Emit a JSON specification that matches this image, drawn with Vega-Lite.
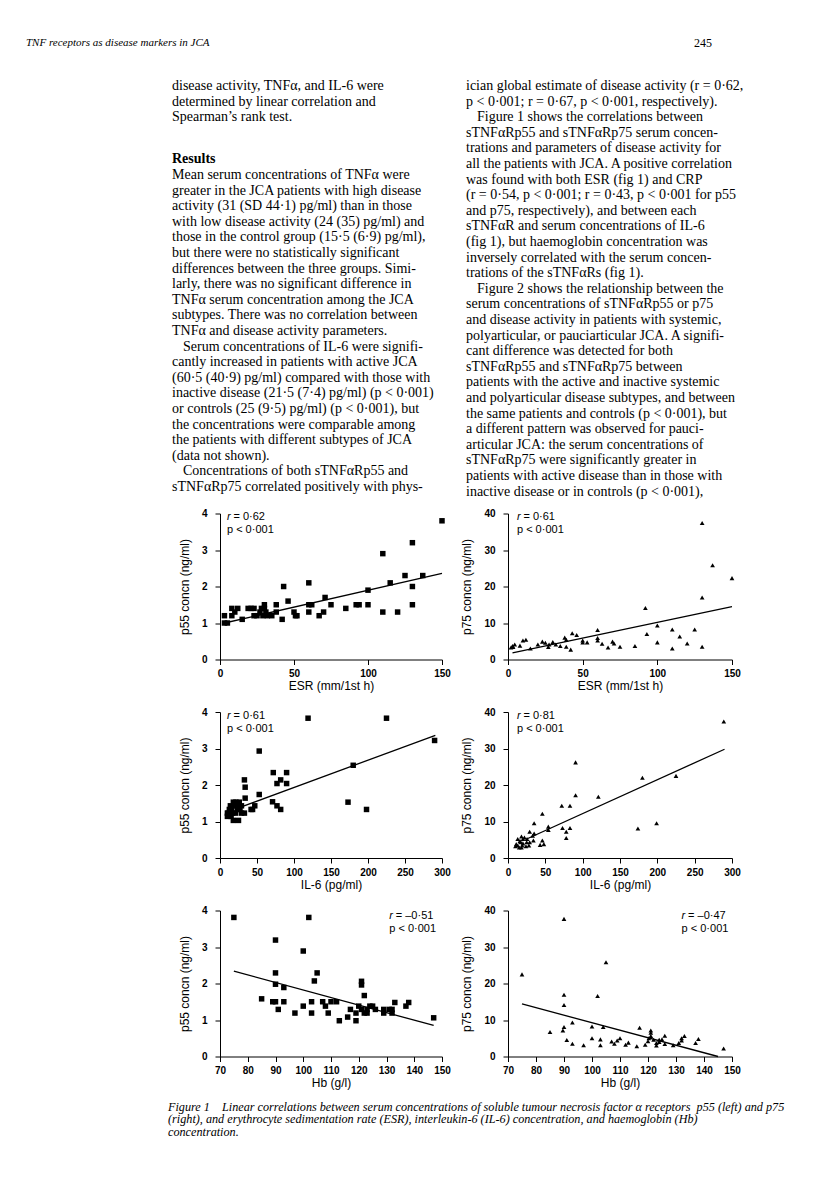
{
  "$schema": "https://vega.github.io/schema/vega-lite/v6.json",
  "background": "white",
  "padding": 0,
  "autosize": {"type": "pad"},
  "config": {
    "view": {"stroke": null},
    "axis": {"grid": false, "domainColor": "black", "domainWidth": 1, "tickColor": "black", "tickWidth": 1, "tickSize": 5, "labelFont": "Liberation Sans", "labelFontSize": 10, "labelFontWeight": "bold", "labelColor": "black", "titleFont": "Liberation Sans", "titleFontSize": 12, "titleFontWeight": "normal", "titleColor": "black", "labelFlush": false, "labelOverlap": false},
    "axisX": {"labelPadding": 4, "titlePadding": 2},
    "axisY": {"labelPadding": 8, "titlePadding": 10}
  },
  "datasets": {
    "header": [
      {"pos": "left", "line": -3, "text": "TNF receptors as disease markers in JCA"},
      {"pos": "right", "line": -3, "text": "245"}
    ],
    "body": [
      {"col": "left", "line": 0, "text": "disease activity, TNFα, and IL-6 were"},
      {"col": "left", "line": 1, "text": "determined by linear correlation and"},
      {"col": "left", "line": 2, "text": "Spearman’s rank test."},
      {"col": "left", "line": 5, "text": "Results", "kind": "heading"},
      {"col": "left", "line": 6, "text": "Mean serum concentrations of TNFα were"},
      {"col": "left", "line": 7, "text": "greater in the JCA patients with high disease"},
      {"col": "left", "line": 8, "text": "activity (31 (SD 44·1) pg/ml) than in those"},
      {"col": "left", "line": 9, "text": "with low disease activity (24 (35) pg/ml) and"},
      {"col": "left", "line": 10, "text": "those in the control group (15·5 (6·9) pg/ml),"},
      {"col": "left", "line": 11, "text": "but there were no statistically significant"},
      {"col": "left", "line": 12, "text": "differences between the three groups. Simi-"},
      {"col": "left", "line": 13, "text": "larly, there was no significant difference in"},
      {"col": "left", "line": 14, "text": "TNFα serum concentration among the JCA"},
      {"col": "left", "line": 15, "text": "subtypes. There was no correlation between"},
      {"col": "left", "line": 16, "text": "TNFα and disease activity parameters."},
      {"col": "left", "line": 17, "text": "Serum concentrations of IL-6 were signifi-", "indent": true},
      {"col": "left", "line": 18, "text": "cantly increased in patients with active JCA"},
      {"col": "left", "line": 19, "text": "(60·5 (40·9) pg/ml) compared with those with"},
      {"col": "left", "line": 20, "text": "inactive disease (21·5 (7·4) pg/ml) (p < 0·001)"},
      {"col": "left", "line": 21, "text": "or controls (25 (9·5) pg/ml) (p < 0·001), but"},
      {"col": "left", "line": 22, "text": "the concentrations were comparable among"},
      {"col": "left", "line": 23, "text": "the patients with different subtypes of JCA"},
      {"col": "left", "line": 24, "text": "(data not shown)."},
      {"col": "left", "line": 25, "text": "Concentrations of both sTNFαRp55 and", "indent": true},
      {"col": "left", "line": 26, "text": "sTNFαRp75 correlated positively with phys-"},
      {"col": "right", "line": 0, "text": "ician global estimate of disease activity (r = 0·62,"},
      {"col": "right", "line": 1, "text": "p < 0·001; r = 0·67, p < 0·001, respectively)."},
      {"col": "right", "line": 2, "text": "Figure 1 shows the correlations between", "indent": true},
      {"col": "right", "line": 3, "text": "sTNFαRp55 and sTNFαRp75 serum concen-"},
      {"col": "right", "line": 4, "text": "trations and parameters of disease activity for"},
      {"col": "right", "line": 5, "text": "all the patients with JCA. A positive correlation"},
      {"col": "right", "line": 6, "text": "was found with both ESR (fig 1) and CRP"},
      {"col": "right", "line": 7, "text": "(r = 0·54, p < 0·001; r = 0·43, p < 0·001 for p55"},
      {"col": "right", "line": 8, "text": "and p75, respectively), and between each"},
      {"col": "right", "line": 9, "text": "sTNFαR and serum concentrations of IL-6"},
      {"col": "right", "line": 10, "text": "(fig 1), but haemoglobin concentration was"},
      {"col": "right", "line": 11, "text": "inversely correlated with the serum concen-"},
      {"col": "right", "line": 12, "text": "trations of the sTNFαRs (fig 1)."},
      {"col": "right", "line": 13, "text": "Figure 2 shows the relationship between the", "indent": true},
      {"col": "right", "line": 14, "text": "serum concentrations of sTNFαRp55 or p75"},
      {"col": "right", "line": 15, "text": "and disease activity in patients with systemic,"},
      {"col": "right", "line": 16, "text": "polyarticular, or pauciarticular JCA. A signifi-"},
      {"col": "right", "line": 17, "text": "cant difference was detected for both"},
      {"col": "right", "line": 18, "text": "sTNFαRp55 and sTNFαRp75 between"},
      {"col": "right", "line": 19, "text": "patients with the active and inactive systemic"},
      {"col": "right", "line": 20, "text": "and polyarticular disease subtypes, and between"},
      {"col": "right", "line": 21, "text": "the same patients and controls (p < 0·001), but"},
      {"col": "right", "line": 22, "text": "a different pattern was observed for pauci-"},
      {"col": "right", "line": 23, "text": "articular JCA: the serum concentrations of"},
      {"col": "right", "line": 24, "text": "sTNFαRp75 were significantly greater in"},
      {"col": "right", "line": 25, "text": "patients with active disease than in those with"},
      {"col": "right", "line": 26, "text": "inactive disease or in controls (p < 0·001),"}
    ],
    "caption": [
      {"col": "left", "line": 0, "text": "Figure 1\u2002\u2002Linear correlations between serum concentrations of soluble tumour necrosis factor α receptors\u2002p55 (left) and p75"},
      {"col": "left", "line": 1, "text": "(right), and erythrocyte sedimentation rate (ESR), interleukin-6 (IL-6) concentration, and haemoglobin (Hb)"},
      {"col": "left", "line": 2, "text": "concentration."}
    ],
    "esr_p55": [
      {"esr": 150, "p55": 3.8}, {"esr": 130, "p55": 3.2}, {"esr": 110, "p55": 2.9}, {"esr": 125, "p55": 2.3}, {"esr": 137, "p55": 2.3},
      {"esr": 115, "p55": 2.1}, {"esr": 130, "p55": 2.0}, {"esr": 60, "p55": 2.1}, {"esr": 43, "p55": 2.0}, {"esr": 100, "p55": 1.9},
      {"esr": 71, "p55": 1.7}, {"esr": 46, "p55": 1.6}, {"esr": 110, "p55": 1.3}, {"esr": 120, "p55": 1.3}, {"esr": 130, "p55": 1.5},
      {"esr": 100, "p55": 1.5}, {"esr": 92, "p55": 1.5}, {"esr": 94, "p55": 1.5}, {"esr": 85, "p55": 1.4}, {"esr": 75, "p55": 1.5},
      {"esr": 62, "p55": 1.5}, {"esr": 60, "p55": 1.5}, {"esr": 60, "p55": 1.3}, {"esr": 70, "p55": 1.3}, {"esr": 67, "p55": 1.2},
      {"esr": 50, "p55": 1.3}, {"esr": 51, "p55": 1.2}, {"esr": 52, "p55": 1.2}, {"esr": 42, "p55": 1.1}, {"esr": 38, "p55": 1.5},
      {"esr": 38, "p55": 1.3}, {"esr": 35, "p55": 1.2}, {"esr": 31, "p55": 1.3}, {"esr": 30, "p55": 1.5}, {"esr": 30, "p55": 1.4},
      {"esr": 29, "p55": 1.2}, {"esr": 27, "p55": 1.3}, {"esr": 25, "p55": 1.2}, {"esr": 23, "p55": 1.2}, {"esr": 21, "p55": 1.4},
      {"esr": 19, "p55": 1.4}, {"esr": 23, "p55": 1.4}, {"esr": 15, "p55": 1.1}, {"esr": 12, "p55": 1.4}, {"esr": 8, "p55": 1.4},
      {"esr": 8, "p55": 1.2}, {"esr": 10, "p55": 1.3}, {"esr": 3, "p55": 1.2}, {"esr": 3, "p55": 1.0}, {"esr": 5, "p55": 1.0},
      {"esr": 32, "p55": 1.2}, {"esr": 28, "p55": 1.4}
    ],
    "fit_esr_p55": [{"esr": 3, "p55": 1.0}, {"esr": 150, "p55": 2.36}],
    "esr_p75": [
      {"esr": 130, "p75": 37.4}, {"esr": 137, "p75": 25.8}, {"esr": 150, "p75": 22.3}, {"esr": 130, "p75": 17}, {"esr": 92, "p75": 14.1},
      {"esr": 93, "p75": 7}, {"esr": 100, "p75": 9.3}, {"esr": 100, "p75": 4.7}, {"esr": 110, "p75": 8.2}, {"esr": 110, "p75": 3},
      {"esr": 115, "p75": 6.3}, {"esr": 120, "p75": 4.4}, {"esr": 125, "p75": 8.2}, {"esr": 130, "p75": 3.5}, {"esr": 85, "p75": 3.7},
      {"esr": 75, "p75": 3.5}, {"esr": 71, "p75": 4.4}, {"esr": 70, "p75": 4.9}, {"esr": 67, "p75": 3.3}, {"esr": 63, "p75": 4.3},
      {"esr": 60, "p75": 8.1}, {"esr": 60, "p75": 5.9}, {"esr": 60, "p75": 5.2}, {"esr": 53, "p75": 4.7}, {"esr": 50, "p75": 5.2},
      {"esr": 50, "p75": 4.7}, {"esr": 46, "p75": 6.7}, {"esr": 43, "p75": 7.2}, {"esr": 42, "p75": 2.7}, {"esr": 39, "p75": 5.4},
      {"esr": 38, "p75": 6}, {"esr": 39, "p75": 3.5}, {"esr": 35, "p75": 3.7}, {"esr": 32, "p75": 4.1}, {"esr": 30, "p75": 4.8},
      {"esr": 27.5, "p75": 4.1}, {"esr": 27, "p75": 3.4}, {"esr": 25, "p75": 4.6}, {"esr": 23, "p75": 4.9}, {"esr": 20, "p75": 4.1},
      {"esr": 15, "p75": 3}, {"esr": 12, "p75": 5.4}, {"esr": 10, "p75": 5.2}, {"esr": 8, "p75": 3.8}, {"esr": 4.5, "p75": 4.1},
      {"esr": 3, "p75": 3.7}, {"esr": 2, "p75": 3.3}, {"esr": 3.4, "p75": 3.4}
    ],
    "fit_esr_p75": [{"esr": 3, "p75": 1.8}, {"esr": 150, "p75": 14.5}],
    "il6_p55": [
      {"il6": 119, "p55": 3.83}, {"il6": 225, "p55": 3.83}, {"il6": 290, "p55": 3.22}, {"il6": 53, "p55": 2.93}, {"il6": 180, "p55": 2.54},
      {"il6": 173, "p55": 1.53}, {"il6": 198, "p55": 1.33}, {"il6": 72, "p55": 2.34}, {"il6": 90, "p55": 2.34}, {"il6": 82, "p55": 2.14},
      {"il6": 77, "p55": 2.04}, {"il6": 90, "p55": 2.04}, {"il6": 71, "p55": 1.54}, {"il6": 77, "p55": 1.43}, {"il6": 82, "p55": 1.33},
      {"il6": 33, "p55": 2.14}, {"il6": 34, "p55": 1.94}, {"il6": 53, "p55": 1.74}, {"il6": 34, "p55": 1.64}, {"il6": 47, "p55": 1.43},
      {"il6": 44, "p55": 1.33}, {"il6": 42, "p55": 1.33}, {"il6": 33, "p55": 1.23}, {"il6": 29, "p55": 1.43}, {"il6": 29, "p55": 1.23},
      {"il6": 27, "p55": 1.33}, {"il6": 21.5, "p55": 1.53}, {"il6": 18, "p55": 1.53}, {"il6": 19, "p55": 1.43}, {"il6": 24, "p55": 1.33},
      {"il6": 21, "p55": 1.23}, {"il6": 17, "p55": 1.23}, {"il6": 14, "p55": 1.43}, {"il6": 12.6, "p55": 1.33}, {"il6": 11, "p55": 1.23},
      {"il6": 10, "p55": 1.14}, {"il6": 10, "p55": 1.23}, {"il6": 15, "p55": 1.14}, {"il6": 18, "p55": 1.03}, {"il6": 25, "p55": 1.03},
      {"il6": 16, "p55": 1.33}, {"il6": 23, "p55": 1.43}, {"il6": 26, "p55": 1.53}
    ],
    "fit_il6_p55": [{"il6": 26, "p55": 1.38}, {"il6": 291, "p55": 3.36}],
    "il6_p75": [
      {"il6": 289, "p75": 37.4}, {"il6": 90.5, "p75": 26.2}, {"il6": 180, "p75": 22}, {"il6": 225, "p75": 22.5}, {"il6": 90.5, "p75": 17.2},
      {"il6": 121, "p75": 16.8}, {"il6": 72, "p75": 14.3}, {"il6": 83, "p75": 14.3}, {"il6": 46, "p75": 12.1}, {"il6": 35, "p75": 9.5},
      {"il6": 199, "p75": 9.5}, {"il6": 174, "p75": 8.1}, {"il6": 73, "p75": 8.2}, {"il6": 83, "p75": 8.2}, {"il6": 54, "p75": 8.6},
      {"il6": 54, "p75": 7.7}, {"il6": 78, "p75": 7.2}, {"il6": 78, "p75": 5.5}, {"il6": 29, "p75": 7.2}, {"il6": 35, "p75": 6.7},
      {"il6": 33, "p75": 6.1}, {"il6": 34, "p75": 4.8}, {"il6": 46, "p75": 4.8}, {"il6": 48, "p75": 3.8}, {"il6": 43, "p75": 3.6},
      {"il6": 28, "p75": 3.4}, {"il6": 25, "p75": 4.3}, {"il6": 20, "p75": 5.2}, {"il6": 18, "p75": 5.9}, {"il6": 16, "p75": 4.7},
      {"il6": 13, "p75": 3.4}, {"il6": 11, "p75": 3.8}, {"il6": 15, "p75": 2.9}, {"il6": 18, "p75": 2.9}, {"il6": 20, "p75": 4},
      {"il6": 22, "p75": 5.6}, {"il6": 25.5, "p75": 5.2}, {"il6": 10, "p75": 3.2}, {"il6": 16.6, "p75": 4.3}, {"il6": 19, "p75": 3.4},
      {"il6": 24, "p75": 3.2}, {"il6": 13, "p75": 5.2}, {"il6": 29, "p75": 4.3}
    ],
    "fit_il6_p75": [{"il6": 25, "p75": 5.2}, {"il6": 290, "p75": 29.8}],
    "hb_p55": [
      {"hb": 75, "p55": 3.81}, {"hb": 102, "p55": 3.81}, {"hb": 90, "p55": 3.19}, {"hb": 100, "p55": 2.89}, {"hb": 90, "p55": 2.29},
      {"hb": 105, "p55": 2.29}, {"hb": 104, "p55": 2.07}, {"hb": 90, "p55": 1.98}, {"hb": 93, "p55": 1.89}, {"hb": 121, "p55": 2.06},
      {"hb": 121, "p55": 1.96}, {"hb": 122, "p55": 1.67}, {"hb": 85, "p55": 1.58}, {"hb": 89, "p55": 1.5}, {"hb": 90, "p55": 1.5},
      {"hb": 93, "p55": 1.5}, {"hb": 103, "p55": 1.5}, {"hb": 107, "p55": 1.5}, {"hb": 110, "p55": 1.5}, {"hb": 112, "p55": 1.5},
      {"hb": 108, "p55": 1.38}, {"hb": 100, "p55": 1.38}, {"hb": 91, "p55": 1.29}, {"hb": 97, "p55": 1.19}, {"hb": 103, "p55": 1.19},
      {"hb": 109, "p55": 1.19}, {"hb": 113, "p55": 0.98}, {"hb": 116, "p55": 1.08}, {"hb": 117, "p55": 1.29}, {"hb": 119, "p55": 0.98},
      {"hb": 119, "p55": 1.19}, {"hb": 120, "p55": 1.38}, {"hb": 121, "p55": 1.29}, {"hb": 122, "p55": 1.19}, {"hb": 123, "p55": 1.29},
      {"hb": 123, "p55": 1.19}, {"hb": 124, "p55": 1.38}, {"hb": 125, "p55": 1.38}, {"hb": 126, "p55": 1.29}, {"hb": 129, "p55": 1.19},
      {"hb": 129, "p55": 1.29}, {"hb": 131, "p55": 1.29}, {"hb": 132, "p55": 1.19}, {"hb": 132, "p55": 1.29}, {"hb": 133, "p55": 1.48},
      {"hb": 137, "p55": 1.38}, {"hb": 138, "p55": 1.48}, {"hb": 147, "p55": 1.06}
    ],
    "fit_hb_p55": [{"hb": 75, "p55": 2.34}, {"hb": 147, "p55": 0.85}],
    "hb_p75": [
      {"hb": 90, "p75": 37.7}, {"hb": 105, "p75": 25.8}, {"hb": 75, "p75": 22.5}, {"hb": 90, "p75": 16.9}, {"hb": 102, "p75": 16.6},
      {"hb": 90, "p75": 14.1}, {"hb": 93, "p75": 9.3}, {"hb": 90, "p75": 8.1}, {"hb": 89.6, "p75": 7.1}, {"hb": 85, "p75": 6.7},
      {"hb": 100, "p75": 8.2}, {"hb": 104, "p75": 8.1}, {"hb": 117, "p75": 7.9}, {"hb": 121, "p75": 7.1}, {"hb": 121, "p75": 6.5},
      {"hb": 126, "p75": 5.7}, {"hb": 91, "p75": 4.5}, {"hb": 93, "p75": 3.5}, {"hb": 97, "p75": 3.1}, {"hb": 100, "p75": 5},
      {"hb": 103, "p75": 4.7}, {"hb": 103, "p75": 3.1}, {"hb": 107, "p75": 4.1}, {"hb": 108, "p75": 3.5}, {"hb": 109, "p75": 4.4},
      {"hb": 110, "p75": 5}, {"hb": 112, "p75": 3.2}, {"hb": 113, "p75": 3.8}, {"hb": 116, "p75": 2.8}, {"hb": 119, "p75": 3.2},
      {"hb": 120, "p75": 4.2}, {"hb": 120.3, "p75": 5}, {"hb": 121, "p75": 5.6}, {"hb": 122, "p75": 4.6}, {"hb": 123, "p75": 3.7},
      {"hb": 123, "p75": 3}, {"hb": 124, "p75": 4.6}, {"hb": 124, "p75": 4}, {"hb": 125, "p75": 4.7}, {"hb": 126, "p75": 3.4},
      {"hb": 129, "p75": 3.1}, {"hb": 131, "p75": 3.7}, {"hb": 132, "p75": 4.4}, {"hb": 132, "p75": 5}, {"hb": 133, "p75": 5.6},
      {"hb": 137, "p75": 3.7}, {"hb": 138, "p75": 4.8}, {"hb": 147, "p75": 2.2}
    ],
    "fit_hb_p75": [{"hb": 75, "p75": 14.4}, {"hb": 145, "p75": 0}]
  },
  "concat": [
    {
      "width": 220, "height": 460.5,
      "layer": [
        {
          "data": {"name": "header"},
          "encoding": {
            "x": {"field": "pos", "type": "nominal", "scale": {"type": "point", "domain": ["left", "right"], "range": [26, 712], "padding": 0}, "axis": null},
            "y": {"field": "line", "type": "quantitative", "scale": {"domain": [-5.513, 24.006], "reverse": true, "nice": false, "zero": false}, "axis": null},
            "text": {"field": "text"}
          },
          "layer": [
            {"transform": [{"filter": "datum.pos === 'left'"}], "mark": {"type": "text", "align": "left", "baseline": "middle", "dy": 4, "font": "Liberation Serif", "fontSize": 11, "fontStyle": "italic", "color": "black"}},
            {"transform": [{"filter": "datum.pos === 'right'"}], "mark": {"type": "text", "align": "right", "baseline": "middle", "dy": 4, "font": "Liberation Serif", "fontSize": 12, "color": "black"}}
          ]
        },
        {
          "data": {"name": "body"},
          "encoding": {
            "x": {"field": "col", "type": "nominal", "scale": {"type": "point", "domain": ["left", "right"], "range": [172, 466], "padding": 0}, "axis": null},
            "y": {"field": "line", "type": "quantitative", "axis": null},
            "text": {"field": "text"}
          },
          "layer": [
            {"transform": [{"filter": "datum.col === 'right' && datum.indent !== true"}], "mark": {"type": "text", "align": "left", "baseline": "middle", "font": "Liberation Serif", "fontSize": 14, "color": "black"}},
            {"transform": [{"filter": "datum.col === 'right' && datum.indent === true"}], "mark": {"type": "text", "align": "left", "baseline": "middle", "dx": 11, "font": "Liberation Serif", "fontSize": 14, "color": "black"}},
            {"transform": [{"filter": "datum.col === 'left' && datum.line < 3"}], "mark": {"type": "text", "align": "left", "baseline": "middle", "font": "Liberation Serif", "fontSize": 14, "color": "black"}},
            {"transform": [{"filter": "datum.col === 'left' && datum.line >= 3 && datum.kind !== 'heading' && datum.indent !== true"}], "mark": {"type": "text", "align": "left", "baseline": "middle", "dy": -4.6, "font": "Liberation Serif", "fontSize": 14, "color": "black"}},
            {"transform": [{"filter": "datum.col === 'left' && datum.indent === true"}], "mark": {"type": "text", "align": "left", "baseline": "middle", "dy": -4.6, "dx": 11, "font": "Liberation Serif", "fontSize": 14, "color": "black"}},
            {"transform": [{"filter": "datum.kind === 'heading'"}], "mark": {"type": "text", "align": "left", "baseline": "middle", "dy": -4.6, "font": "Liberation Serif", "fontSize": 14, "fontWeight": "bold", "color": "black"}}
          ]
        }
      ],
      "resolve": {"scale": {"x": "independent"}}
    },
    {"width": 222, "height": 460.5, "data": {"values": []}, "mark": "text", "encoding": {}},
    {"width": 66, "height": 460.5, "data": {"values": []}, "mark": "text", "encoding": {}},
    {"width": 224, "height": 460.5, "data": {"values": []}, "mark": "text", "encoding": {}},

    {"width": 220, "height": 146, "data": {"values": []}, "mark": "text", "encoding": {}},
    {
      "width": 222, "height": 146,
      "layer": [
        {"data": {"name": "esr_p55"}, "mark": {"type": "square", "filled": true, "color": "black", "size": 30, "opacity": 1},
         "encoding": {
           "x": {"field": "esr", "type": "quantitative", "scale": {"domain": [0, 150], "nice": false}, "axis": {"values": [0, 50, 100, 150], "title": "ESR (mm/1st h)"}},
           "y": {"field": "p55", "type": "quantitative", "scale": {"domain": [0, 4], "nice": false}, "axis": {"values": [0, 1, 2, 3, 4], "title": "p55 concn (ng/ml)"}}}},
        {"data": {"name": "fit_esr_p55"}, "mark": {"type": "line", "color": "black", "strokeWidth": 1.3},
         "encoding": {"x": {"field": "esr", "type": "quantitative", "axis": {"values": [0, 50, 100, 150], "title": "ESR (mm/1st h)"}}, "y": {"field": "p55", "type": "quantitative", "axis": {"values": [0, 1, 2, 3, 4], "title": "p55 concn (ng/ml)"}}}},
        {"data": {"values": [{"r": "r", "eq": "= 0·62", "p": "p < 0·001"}]},
         "layer": [
           {"mark": {"type": "text", "align": "left", "baseline": "middle", "font": "Liberation Sans", "fontSize": 11, "fontStyle": "italic", "color": "black"}, "encoding": {"x": {"datum": 4.7, "axis": {"values": [0, 50, 100, 150], "title": "ESR (mm/1st h)"}}, "y": {"datum": 3.9, "axis": {"values": [0, 1, 2, 3, 4], "title": "p55 concn (ng/ml)"}}, "text": {"field": "r"}}},
           {"mark": {"type": "text", "align": "left", "baseline": "middle", "font": "Liberation Sans", "fontSize": 11, "dx": 6.5, "color": "black"}, "encoding": {"x": {"datum": 4.7, "axis": {"values": [0, 50, 100, 150], "title": "ESR (mm/1st h)"}}, "y": {"datum": 3.9, "axis": {"values": [0, 1, 2, 3, 4], "title": "p55 concn (ng/ml)"}}, "text": {"field": "eq"}}},
           {"mark": {"type": "text", "align": "left", "baseline": "middle", "font": "Liberation Sans", "fontSize": 11, "color": "black"}, "encoding": {"x": {"datum": 4.7, "axis": {"values": [0, 50, 100, 150], "title": "ESR (mm/1st h)"}}, "y": {"datum": 3.55, "axis": {"values": [0, 1, 2, 3, 4], "title": "p55 concn (ng/ml)"}}, "text": {"field": "p"}}}
         ]}
      ]
    },
    {"width": 66, "height": 146, "data": {"values": []}, "mark": "text", "encoding": {}},
    {
      "width": 224, "height": 146,
      "layer": [
        {"data": {"name": "esr_p75"}, "mark": {"type": "point", "shape": "triangle-up", "filled": true, "color": "black", "size": 22, "opacity": 1},
         "encoding": {
           "x": {"field": "esr", "type": "quantitative", "scale": {"domain": [0, 150], "nice": false}, "axis": {"values": [0, 50, 100, 150], "title": "ESR (mm/1st h)"}},
           "y": {"field": "p75", "type": "quantitative", "scale": {"domain": [0, 40], "nice": false}, "axis": {"values": [0, 10, 20, 30, 40], "title": "p75 concn (ng/ml)"}}}},
        {"data": {"name": "fit_esr_p75"}, "mark": {"type": "line", "color": "black", "strokeWidth": 1.3},
         "encoding": {"x": {"field": "esr", "type": "quantitative", "axis": {"values": [0, 50, 100, 150], "title": "ESR (mm/1st h)"}}, "y": {"field": "p75", "type": "quantitative", "axis": {"values": [0, 10, 20, 30, 40], "title": "p75 concn (ng/ml)"}}}},
        {"data": {"values": [{"r": "r", "eq": "= 0·61", "p": "p < 0·001"}]},
         "layer": [
           {"mark": {"type": "text", "align": "left", "baseline": "middle", "font": "Liberation Sans", "fontSize": 11, "fontStyle": "italic", "color": "black"}, "encoding": {"x": {"datum": 6, "axis": {"values": [0, 50, 100, 150], "title": "ESR (mm/1st h)"}}, "y": {"datum": 39, "axis": {"values": [0, 10, 20, 30, 40], "title": "p75 concn (ng/ml)"}}, "text": {"field": "r"}}},
           {"mark": {"type": "text", "align": "left", "baseline": "middle", "font": "Liberation Sans", "fontSize": 11, "dx": 6.5, "color": "black"}, "encoding": {"x": {"datum": 6, "axis": {"values": [0, 50, 100, 150], "title": "ESR (mm/1st h)"}}, "y": {"datum": 39, "axis": {"values": [0, 10, 20, 30, 40], "title": "p75 concn (ng/ml)"}}, "text": {"field": "eq"}}},
           {"mark": {"type": "text", "align": "left", "baseline": "middle", "font": "Liberation Sans", "fontSize": 11, "color": "black"}, "encoding": {"x": {"datum": 6, "axis": {"values": [0, 50, 100, 150], "title": "ESR (mm/1st h)"}}, "y": {"datum": 35.5, "axis": {"values": [0, 10, 20, 30, 40], "title": "p75 concn (ng/ml)"}}, "text": {"field": "p"}}}
         ]}
      ]
    },

    {"width": 220, "height": 146, "data": {"values": []}, "mark": "text", "encoding": {}},
    {
      "width": 222, "height": 146,
      "layer": [
        {"data": {"name": "il6_p55"}, "mark": {"type": "square", "filled": true, "color": "black", "size": 30, "opacity": 1},
         "encoding": {
           "x": {"field": "il6", "type": "quantitative", "scale": {"domain": [0, 300], "nice": false}, "axis": {"values": [0, 50, 100, 150, 200, 250, 300], "title": "IL-6 (pg/ml)"}},
           "y": {"field": "p55", "type": "quantitative", "scale": {"domain": [0, 4], "nice": false}, "axis": {"values": [0, 1, 2, 3, 4], "title": "p55 concn (ng/ml)"}}}},
        {"data": {"name": "fit_il6_p55"}, "mark": {"type": "line", "color": "black", "strokeWidth": 1.3},
         "encoding": {"x": {"field": "il6", "type": "quantitative", "axis": {"values": [0, 50, 100, 150, 200, 250, 300], "title": "IL-6 (pg/ml)"}}, "y": {"field": "p55", "type": "quantitative", "axis": {"values": [0, 1, 2, 3, 4], "title": "p55 concn (ng/ml)"}}}},
        {"data": {"values": [{"r": "r", "eq": "= 0·61", "p": "p < 0·001"}]},
         "layer": [
           {"mark": {"type": "text", "align": "left", "baseline": "middle", "font": "Liberation Sans", "fontSize": 11, "fontStyle": "italic", "color": "black"}, "encoding": {"x": {"datum": 9.5, "axis": {"values": [0, 50, 100, 150, 200, 250, 300], "title": "IL-6 (pg/ml)"}}, "y": {"datum": 3.88, "axis": {"values": [0, 1, 2, 3, 4], "title": "p55 concn (ng/ml)"}}, "text": {"field": "r"}}},
           {"mark": {"type": "text", "align": "left", "baseline": "middle", "font": "Liberation Sans", "fontSize": 11, "dx": 6.5, "color": "black"}, "encoding": {"x": {"datum": 9.5, "axis": {"values": [0, 50, 100, 150, 200, 250, 300], "title": "IL-6 (pg/ml)"}}, "y": {"datum": 3.88, "axis": {"values": [0, 1, 2, 3, 4], "title": "p55 concn (ng/ml)"}}, "text": {"field": "eq"}}},
           {"mark": {"type": "text", "align": "left", "baseline": "middle", "font": "Liberation Sans", "fontSize": 11, "color": "black"}, "encoding": {"x": {"datum": 9.5, "axis": {"values": [0, 50, 100, 150, 200, 250, 300], "title": "IL-6 (pg/ml)"}}, "y": {"datum": 3.54, "axis": {"values": [0, 1, 2, 3, 4], "title": "p55 concn (ng/ml)"}}, "text": {"field": "p"}}}
         ]}
      ]
    },
    {"width": 66, "height": 146, "data": {"values": []}, "mark": "text", "encoding": {}},
    {
      "width": 224, "height": 146,
      "layer": [
        {"data": {"name": "il6_p75"}, "mark": {"type": "point", "shape": "triangle-up", "filled": true, "color": "black", "size": 22, "opacity": 1},
         "encoding": {
           "x": {"field": "il6", "type": "quantitative", "scale": {"domain": [0, 300], "nice": false}, "axis": {"values": [0, 50, 100, 150, 200, 250, 300], "title": "IL-6 (pg/ml)"}},
           "y": {"field": "p75", "type": "quantitative", "scale": {"domain": [0, 40], "nice": false}, "axis": {"values": [0, 10, 20, 30, 40], "title": "p75 concn (ng/ml)"}}}},
        {"data": {"name": "fit_il6_p75"}, "mark": {"type": "line", "color": "black", "strokeWidth": 1.3},
         "encoding": {"x": {"field": "il6", "type": "quantitative", "axis": {"values": [0, 50, 100, 150, 200, 250, 300], "title": "IL-6 (pg/ml)"}}, "y": {"field": "p75", "type": "quantitative", "axis": {"values": [0, 10, 20, 30, 40], "title": "p75 concn (ng/ml)"}}}},
        {"data": {"values": [{"r": "r", "eq": "= 0·81", "p": "p < 0·001"}]},
         "layer": [
           {"mark": {"type": "text", "align": "left", "baseline": "middle", "font": "Liberation Sans", "fontSize": 11, "fontStyle": "italic", "color": "black"}, "encoding": {"x": {"datum": 12, "axis": {"values": [0, 50, 100, 150, 200, 250, 300], "title": "IL-6 (pg/ml)"}}, "y": {"datum": 38.8, "axis": {"values": [0, 10, 20, 30, 40], "title": "p75 concn (ng/ml)"}}, "text": {"field": "r"}}},
           {"mark": {"type": "text", "align": "left", "baseline": "middle", "font": "Liberation Sans", "fontSize": 11, "dx": 6.5, "color": "black"}, "encoding": {"x": {"datum": 12, "axis": {"values": [0, 50, 100, 150, 200, 250, 300], "title": "IL-6 (pg/ml)"}}, "y": {"datum": 38.8, "axis": {"values": [0, 10, 20, 30, 40], "title": "p75 concn (ng/ml)"}}, "text": {"field": "eq"}}},
           {"mark": {"type": "text", "align": "left", "baseline": "middle", "font": "Liberation Sans", "fontSize": 11, "color": "black"}, "encoding": {"x": {"datum": 12, "axis": {"values": [0, 50, 100, 150, 200, 250, 300], "title": "IL-6 (pg/ml)"}}, "y": {"datum": 35.4, "axis": {"values": [0, 10, 20, 30, 40], "title": "p75 concn (ng/ml)"}}, "text": {"field": "p"}}}
         ]}
      ]
    },

    {"width": 220, "height": 146, "data": {"values": []}, "mark": "text", "encoding": {}},
    {
      "width": 222, "height": 146,
      "layer": [
        {"data": {"name": "hb_p55"}, "mark": {"type": "square", "filled": true, "color": "black", "size": 30, "opacity": 1},
         "encoding": {
           "x": {"field": "hb", "type": "quantitative", "scale": {"domain": [70, 150], "nice": false, "zero": false}, "axis": {"values": [70, 80, 90, 100, 110, 120, 130, 140, 150], "title": "Hb (g/l)"}},
           "y": {"field": "p55", "type": "quantitative", "scale": {"domain": [0, 4], "nice": false}, "axis": {"values": [0, 1, 2, 3, 4], "title": "p55 concn (ng/ml)"}}}},
        {"data": {"name": "fit_hb_p55"}, "mark": {"type": "line", "color": "black", "strokeWidth": 1.3},
         "encoding": {"x": {"field": "hb", "type": "quantitative", "axis": {"values": [70, 80, 90, 100, 110, 120, 130, 140, 150], "title": "Hb (g/l)"}}, "y": {"field": "p55", "type": "quantitative", "axis": {"values": [0, 1, 2, 3, 4], "title": "p55 concn (ng/ml)"}}}},
        {"data": {"values": [{"r": "r", "eq": "= –0·51", "p": "p < 0·001"}]},
         "layer": [
           {"mark": {"type": "text", "align": "left", "baseline": "middle", "font": "Liberation Sans", "fontSize": 11, "fontStyle": "italic", "color": "black"}, "encoding": {"x": {"datum": 131, "axis": {"values": [70, 80, 90, 100, 110, 120, 130, 140, 150], "title": "Hb (g/l)"}}, "y": {"datum": 3.84, "axis": {"values": [0, 1, 2, 3, 4], "title": "p55 concn (ng/ml)"}}, "text": {"field": "r"}}},
           {"mark": {"type": "text", "align": "left", "baseline": "middle", "font": "Liberation Sans", "fontSize": 11, "dx": 6.5, "color": "black"}, "encoding": {"x": {"datum": 131, "axis": {"values": [70, 80, 90, 100, 110, 120, 130, 140, 150], "title": "Hb (g/l)"}}, "y": {"datum": 3.84, "axis": {"values": [0, 1, 2, 3, 4], "title": "p55 concn (ng/ml)"}}, "text": {"field": "eq"}}},
           {"mark": {"type": "text", "align": "left", "baseline": "middle", "font": "Liberation Sans", "fontSize": 11, "color": "black"}, "encoding": {"x": {"datum": 131, "axis": {"values": [70, 80, 90, 100, 110, 120, 130, 140, 150], "title": "Hb (g/l)"}}, "y": {"datum": 3.5, "axis": {"values": [0, 1, 2, 3, 4], "title": "p55 concn (ng/ml)"}}, "text": {"field": "p"}}}
         ]}
      ]
    },
    {"width": 66, "height": 146, "data": {"values": []}, "mark": "text", "encoding": {}},
    {
      "width": 224, "height": 146,
      "layer": [
        {"data": {"name": "hb_p75"}, "mark": {"type": "point", "shape": "triangle-up", "filled": true, "color": "black", "size": 22, "opacity": 1},
         "encoding": {
           "x": {"field": "hb", "type": "quantitative", "scale": {"domain": [70, 150], "nice": false, "zero": false}, "axis": {"values": [70, 80, 90, 100, 110, 120, 130, 140, 150], "title": "Hb (g/l)"}},
           "y": {"field": "p75", "type": "quantitative", "scale": {"domain": [0, 40], "nice": false}, "axis": {"values": [0, 10, 20, 30, 40], "title": "p75 concn (ng/ml)"}}}},
        {"data": {"name": "fit_hb_p75"}, "mark": {"type": "line", "color": "black", "strokeWidth": 1.3},
         "encoding": {"x": {"field": "hb", "type": "quantitative", "axis": {"values": [70, 80, 90, 100, 110, 120, 130, 140, 150], "title": "Hb (g/l)"}}, "y": {"field": "p75", "type": "quantitative", "axis": {"values": [0, 10, 20, 30, 40], "title": "p75 concn (ng/ml)"}}}},
        {"data": {"values": [{"r": "r", "eq": "= –0·47", "p": "p < 0·001"}]},
         "layer": [
           {"mark": {"type": "text", "align": "left", "baseline": "middle", "font": "Liberation Sans", "fontSize": 11, "fontStyle": "italic", "color": "black"}, "encoding": {"x": {"datum": 132, "axis": {"values": [70, 80, 90, 100, 110, 120, 130, 140, 150], "title": "Hb (g/l)"}}, "y": {"datum": 38.4, "axis": {"values": [0, 10, 20, 30, 40], "title": "p75 concn (ng/ml)"}}, "text": {"field": "r"}}},
           {"mark": {"type": "text", "align": "left", "baseline": "middle", "font": "Liberation Sans", "fontSize": 11, "dx": 6.5, "color": "black"}, "encoding": {"x": {"datum": 132, "axis": {"values": [70, 80, 90, 100, 110, 120, 130, 140, 150], "title": "Hb (g/l)"}}, "y": {"datum": 38.4, "axis": {"values": [0, 10, 20, 30, 40], "title": "p75 concn (ng/ml)"}}, "text": {"field": "eq"}}},
           {"mark": {"type": "text", "align": "left", "baseline": "middle", "font": "Liberation Sans", "fontSize": 11, "color": "black"}, "encoding": {"x": {"datum": 132, "axis": {"values": [70, 80, 90, 100, 110, 120, 130, 140, 150], "title": "Hb (g/l)"}}, "y": {"datum": 35, "axis": {"values": [0, 10, 20, 30, 40], "title": "p75 concn (ng/ml)"}}, "text": {"field": "p"}}}
         ]}
      ]
    },

    {
      "width": 220, "height": 82.5,
      "data": {"name": "caption"},
      "mark": {"type": "text", "align": "left", "baseline": "middle", "font": "Liberation Serif", "fontSize": 12.2, "fontStyle": "italic", "color": "black"},
      "encoding": {
        "x": {"field": "col", "type": "nominal", "scale": {"type": "point", "domain": ["left", "right"], "range": [168, 466], "padding": 0}, "axis": null},
        "y": {"field": "line", "type": "quantitative", "scale": {"domain": [0.2, 6.8], "reverse": true, "nice": false, "zero": false}, "axis": null},
        "text": {"field": "text"}
      }
    },
    {"width": 222, "height": 82.5, "data": {"values": []}, "mark": "text", "encoding": {}},
    {"width": 66, "height": 82.5, "data": {"values": []}, "mark": "text", "encoding": {}},
    {"width": 224, "height": 82.5, "data": {"values": []}, "mark": "text", "encoding": {}}
  ],
  "columns": 4,
  "align": "none",
  "bounds": "flush",
  "spacing": {"row": 52.5, "column": 0}
}
